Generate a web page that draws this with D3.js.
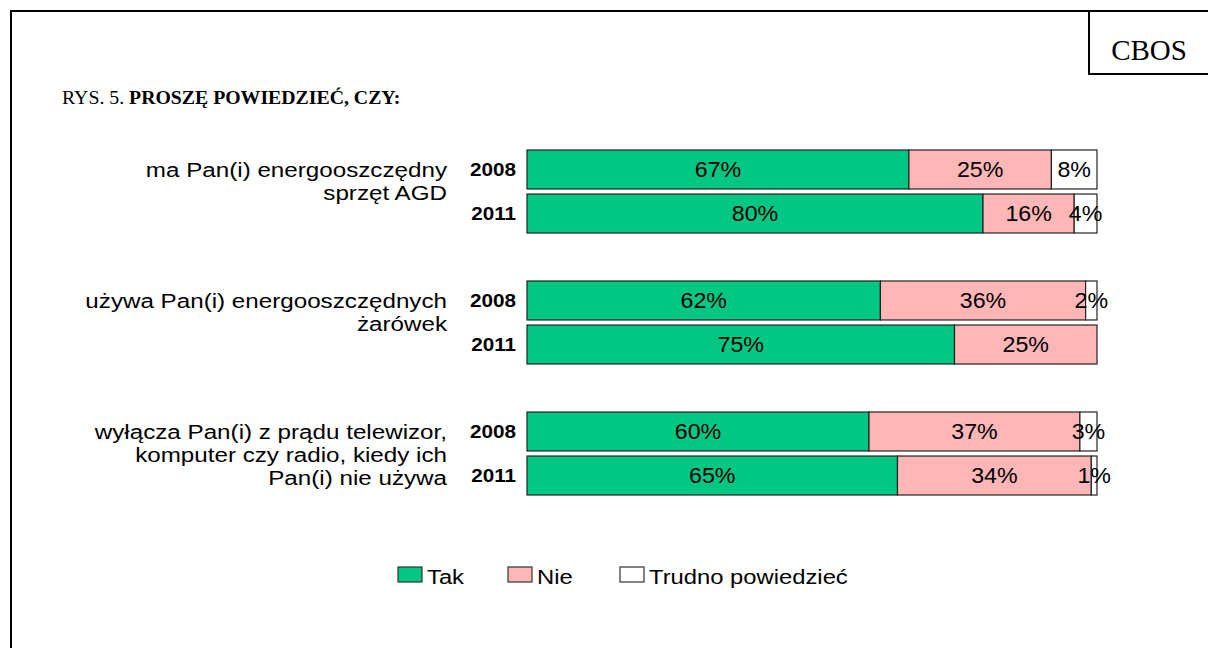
<!DOCTYPE html>
<html><head><meta charset="utf-8">
<script src="https://cdn.jsdelivr.net/npm/d3@7"></script>
<style>body{margin:0;background:#fff}svg{display:block}</style>
</head><body>
<svg id="c" width="1208" height="648"></svg>
<script>
const categories = [
  ["ma Pan(i) energooszczędny", "sprzęt AGD"],
  ["używa Pan(i) energooszczędnych", "żarówek"],
  ["wyłącza Pan(i) z prądu telewizor,", "komputer czy radio, kiedy ich", "Pan(i) nie używa"]
];
const years = ["2008", "2011"];
const seriesNames = ["Tak", "Nie", "Trudno powiedzieć"];
const tak = [[67, 80], [62, 75], [60, 65]];
const nie = [[25, 16], [36, 25], [37, 34]];
const trudno = [[8, 4], [2, 0], [3, 1]];
const colors = ["#00C784", "#FFB6B6", "#FFFFFF"];

const svg = d3.select("#c");
const sans = "'Liberation Sans', Arial, sans-serif";
const serif = "'Liberation Serif', 'Times New Roman', serif";

function txt(parent, x, y, s, size, sx, anchor, weight, fam) {
  return parent.append("text")
    .attr("transform", `translate(${x},${y}) scale(${sx},1)`)
    .attr("text-anchor", anchor || "start")
    .attr("font-family", fam || sans)
    .attr("font-weight", weight || "normal")
    .attr("font-size", size).text(s);
}

// frame
svg.append("line").attr("x1", 11).attr("x2", 1208).attr("y1", 11).attr("y2", 11).attr("stroke", "#000").attr("stroke-width", 2);
svg.append("line").attr("x1", 11).attr("x2", 11).attr("y1", 10).attr("y2", 648).attr("stroke", "#000").attr("stroke-width", 2);
svg.append("rect").attr("x", 1089).attr("y", 11).attr("width", 130).attr("height", 63).attr("fill", "#fff").attr("stroke", "#000").attr("stroke-width", 2);
txt(svg, 1149, 60, "CBOS", 29, 1.0, "middle", "normal", serif);

const t = svg.append("text").attr("transform", "translate(62,104) scale(1,1)").attr("font-family", serif).attr("font-size", 19.8);
t.append("tspan").text("RYS. 5. ");
t.append("tspan").attr("font-weight", "bold").text("PROSZĘ POWIEDZIEĆ, CZY:");

const x = d3.scaleLinear().domain([0, 100]).range([527, 1097]);
const yGroup = d3.scaleBand().domain(d3.range(categories.length)).range([150, 543]).paddingInner(0).paddingOuter(0);
const ySub = d3.scaleBand().domain(years).range([0, 83]).paddingInner(0.115);

const rows = [];
categories.forEach((c, gi) => {
  years.forEach((yr, yi) => {
    const vals = [tak[gi][yi], nie[gi][yi], trudno[gi][yi]];
    let acc = 0;
    const segs = vals.map((v, si) => { const s = {v, x0: acc, x1: acc + v, si}; acc += v; return s; });
    rows.push({gi, yr, segs, y: yGroup(gi) + ySub(yr)});
  });
});

const bh = ySub.bandwidth();
const rowG = svg.selectAll("g.row").data(rows).join("g").attr("class", "row");
rowG.each(function(r) {
  const g = d3.select(this);
  r.segs.filter(s => s.v > 0).forEach(s => {
    g.append("rect").attr("x", x(s.x0)).attr("y", r.y).attr("width", x(s.x1) - x(s.x0)).attr("height", bh)
      .attr("fill", colors[s.si]).attr("stroke", "#222").attr("stroke-width", 1.2);
  });
  r.segs.filter(s => s.v > 0).forEach(s => {
    txt(g, (x(s.x0) + x(s.x1)) / 2, r.y + bh / 2 + 7.5, s.v + "%", 21.5, 1.08, "middle");
  });
  txt(g, 516, r.y + bh / 2 + 6.5, r.yr, 18, 1.15, "end", "bold");
});

categories.forEach((lines, gi) => {
  lines.forEach((l, li) => {
    txt(svg, 447, yGroup(gi) + 27 + li * 23, l, 20, 1.21, "end");
  });
});

// legend
const legX = [398, 508, 620];
seriesNames.forEach((n, i) => {
  svg.append("rect").attr("x", legX[i]).attr("y", 567).attr("width", 24).attr("height", 15)
    .attr("fill", colors[i]).attr("stroke", "#333").attr("stroke-width", 1.2);
  txt(svg, legX[i] + 29, 584, n, 20, 1.19, "start");
});
</script>
</body></html>
